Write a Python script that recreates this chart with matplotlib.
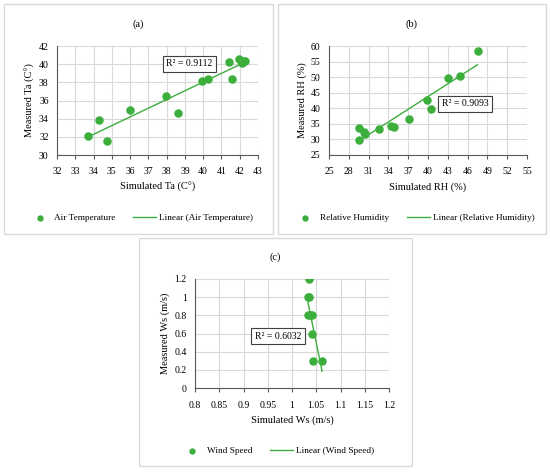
import matplotlib.pyplot as plt
import numpy as np
from matplotlib.patches import Rectangle

# (a) air temperature
ta_sim = [33.7, 34.3, 34.75, 36.0, 37.95, 38.6, 39.95, 40.25, 41.4, 41.6, 41.95, 42.1, 42.25, 42.3]
ta_meas = [32.1, 33.9, 31.5, 34.9, 36.55, 34.65, 38.1, 38.35, 40.2, 38.4, 40.6, 40.1, 40.3, 40.4]
# (b) relative humidity
rh_sim = [29.55, 29.55, 30.3, 30.4, 32.5, 34.4, 34.8, 37.15, 39.8, 40.4, 43.05, 44.85, 47.5]
rh_meas = [33.8, 29.7, 32.4, 31.6, 33.5, 34.2, 33.9, 36.6, 42.7, 39.9, 49.7, 50.5, 58.3]
# (c) wind speed
ws_sim = [1.035, 1.032, 1.036, 1.033, 1.037, 1.041, 1.042, 1.043, 1.062]
ws_meas = [1.2, 1.0, 1.0, 0.8, 0.8, 0.8, 0.6, 0.3, 0.3]

green = '#3cae3c'
serif = 'Liberation Serif'
plt.rcParams['font.family'] = serif

fig = plt.figure(figsize=(5.5, 4.73), dpi=100)
W, H = 550, 473


def px(x0, y0, x1, y1):
    # pixel box (top-left origin) -> figure fractions
    return [x0 / W, 1 - y1 / H, (x1 - x0) / W, (y1 - y0) / H]


def panel(box, ax_box, x, y, xlim, xticks, ylim, yticks, title, xlab, ylab,
          name, r2, r2pos, title_y, leg_y, xfmt=None, yfmt=None):
    b = px(*box)
    fig.patches.append(Rectangle((b[0], b[1]), b[2], b[3], transform=fig.transFigure,
                                 fill=False, edgecolor='#d9d9d9', linewidth=1))
    ax = fig.add_axes(px(*ax_box))
    ax.scatter(x, y, s=26, color=green, zorder=3, label=name)
    k, c = np.polyfit(x, y, 1)
    xs = np.array([min(x), max(x)])
    ax.plot(xs, k * xs + c, color=green, linewidth=1, zorder=2, label='Linear (%s)' % name)
    ax.set_xlim(*xlim)
    ax.set_ylim(*ylim)
    ax.set_xticks(xticks)
    ax.set_yticks(yticks)
    if xfmt:
        ax.set_xticklabels([xfmt(v) for v in xticks])
    if yfmt:
        ax.set_yticklabels([yfmt(v) for v in yticks])
    ax.grid(True, color='#d9d9d9', linewidth=0.8)
    ax.set_axisbelow(True)
    for s in ['top', 'right']:
        ax.spines[s].set_visible(False)
    for s in ['left', 'bottom']:
        ax.spines[s].set_color('#595959')
        ax.spines[s].set_linewidth(0.8)
    ax.tick_params(labelsize=7, length=3, width=0.8, color='#595959', pad=3)
    ax.tick_params(axis='x', pad=6)
    ax.tick_params(axis='y', length=0, pad=6)
    ax.set_xlabel(xlab, fontsize=7.5, labelpad=4)
    ax.set_ylabel(ylab, fontsize=7.5, labelpad=3)
    ax.text(r2pos[0], r2pos[1], 'R² = %s' % r2, transform=ax.transAxes, ha='center', va='center',
            fontsize=7, bbox=dict(boxstyle='square,pad=0.35', facecolor='white', edgecolor='#404040', linewidth=0.8))
    cx = (box[0] + box[2]) / 2 / W
    fig.text(cx, 1 - title_y / H, title, ha='center', va='center', fontsize=7.5)
    fig.legend(*ax.get_legend_handles_labels(), loc='center', bbox_to_anchor=(cx + 2 / W, 1 - leg_y / H),
               ncol=2, frameon=False, fontsize=6.7, handlelength=2.5, columnspacing=1.9,
               handletextpad=0.3, scatterpoints=1, markerscale=0.7)
    return ax


panel((4, 4, 273, 234), (57, 46, 258, 155), ta_sim, ta_meas, (32, 43), range(32, 44),
      (30, 42), range(30, 43, 2), '(a)', 'Simulated Ta (C°)', 'Measured Ta (C°)',
      'Air Temperature', '0.9112', (0.657, 0.835), 24, 218)

panel((278, 4, 546, 234), (329, 46, 527, 155), rh_sim, rh_meas, (25, 55), range(25, 56, 3),
      (25, 60), range(25, 61, 5), '(b)', 'Simulated RH (%)', 'Measured RH (%)',
      'Relative Humidity', '0.9093', (0.687, 0.468), 24, 218)

wx = [0.8, 0.85, 0.9, 0.95, 1.0, 1.05, 1.1, 1.15, 1.2]
wy = [0, 0.2, 0.4, 0.6, 0.8, 1.0, 1.2]
panel((139, 238, 412, 466), (195, 279, 389, 388), ws_sim, ws_meas, (0.8, 1.2), wx,
      (0, 1.2), wy, '(c)', 'Simulated Ws (m/s)', 'Measured Ws (m/s)',
      'Wind Speed', '0.6032', (0.428, 0.477), 257, 451,
      xfmt=lambda v: '%g' % v, yfmt=lambda v: '%g' % v)

fig.savefig('out.png', dpi=100)
